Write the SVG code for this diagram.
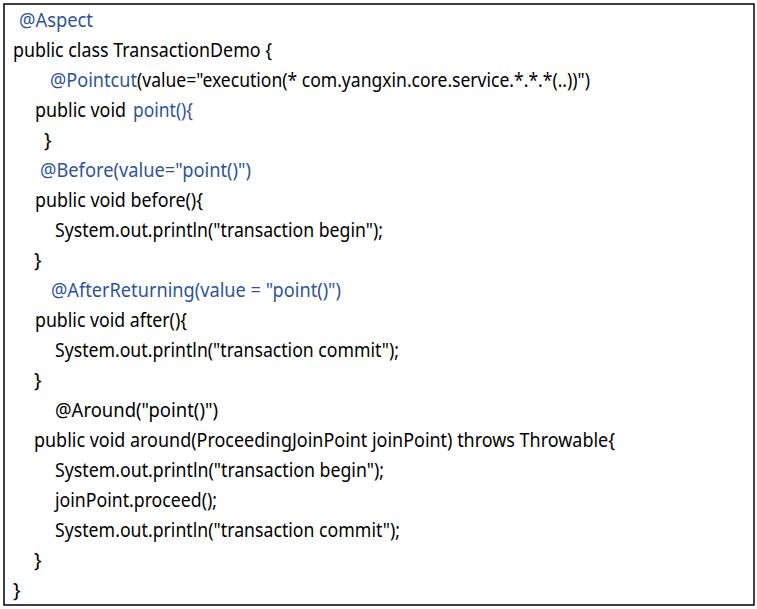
<svg xmlns="http://www.w3.org/2000/svg" width="757" height="609" viewBox="0 0 757 609">
<style>
text{font-family:"Noto Sans","Open Sans","Liberation Sans",sans-serif;font-size:20px;fill:#000}
.b{fill:#2f5496}
</style>
<rect width="757" height="609" fill="#fff"/>
<rect x="4" y="4" width="750" height="601" fill="none" stroke="#000" stroke-width="1.5"/>
<g id="code">
<text x="19" y="27" class="b" textLength="74" lengthAdjust="spacingAndGlyphs">@Aspect</text>
<text x="13" y="57" textLength="259" lengthAdjust="spacingAndGlyphs">public class TransactionDemo {</text>
<text x="50" y="87" class="b" textLength="87" lengthAdjust="spacingAndGlyphs">@Pointcut</text>
<text x="137" y="87" textLength="453" lengthAdjust="spacingAndGlyphs">(value="execution(* com.yangxin.core.service.*.*.*(..))")</text>
<text x="35" y="117" textLength="91" lengthAdjust="spacingAndGlyphs">public void</text>
<text x="133" y="117" class="b" textLength="60" lengthAdjust="spacingAndGlyphs">point(){</text>
<text x="44" y="147">}</text>
<text x="40" y="177" class="b" textLength="211" lengthAdjust="spacingAndGlyphs">@Before(value="point()")</text>
<text x="35" y="207" textLength="168" lengthAdjust="spacingAndGlyphs">public void before(){</text>
<text x="55" y="237" textLength="328" lengthAdjust="spacingAndGlyphs">System.out.println("transaction begin");</text>
<text x="34" y="267">}</text>
<text x="51" y="297" class="b" textLength="290" lengthAdjust="spacingAndGlyphs">@AfterReturning(value = "point()")</text>
<text x="35" y="327" textLength="152" lengthAdjust="spacingAndGlyphs">public void after(){</text>
<text x="55" y="357" textLength="344" lengthAdjust="spacingAndGlyphs">System.out.println("transaction commit");</text>
<text x="34" y="387">}</text>
<text x="55" y="417" textLength="163" lengthAdjust="spacingAndGlyphs">@Around("point()")</text>
<text x="34" y="447" textLength="581" lengthAdjust="spacingAndGlyphs">public void around(ProceedingJoinPoint joinPoint) throws Throwable{</text>
<text x="55" y="477" textLength="329" lengthAdjust="spacingAndGlyphs">System.out.println("transaction begin");</text>
<text x="55" y="507" textLength="162" lengthAdjust="spacingAndGlyphs">joinPoint.proceed();</text>
<text x="55" y="537" textLength="345" lengthAdjust="spacingAndGlyphs">System.out.println("transaction commit");</text>
<text x="34" y="567">}</text>
<text x="13" y="597">}</text>
</g>
</svg>
